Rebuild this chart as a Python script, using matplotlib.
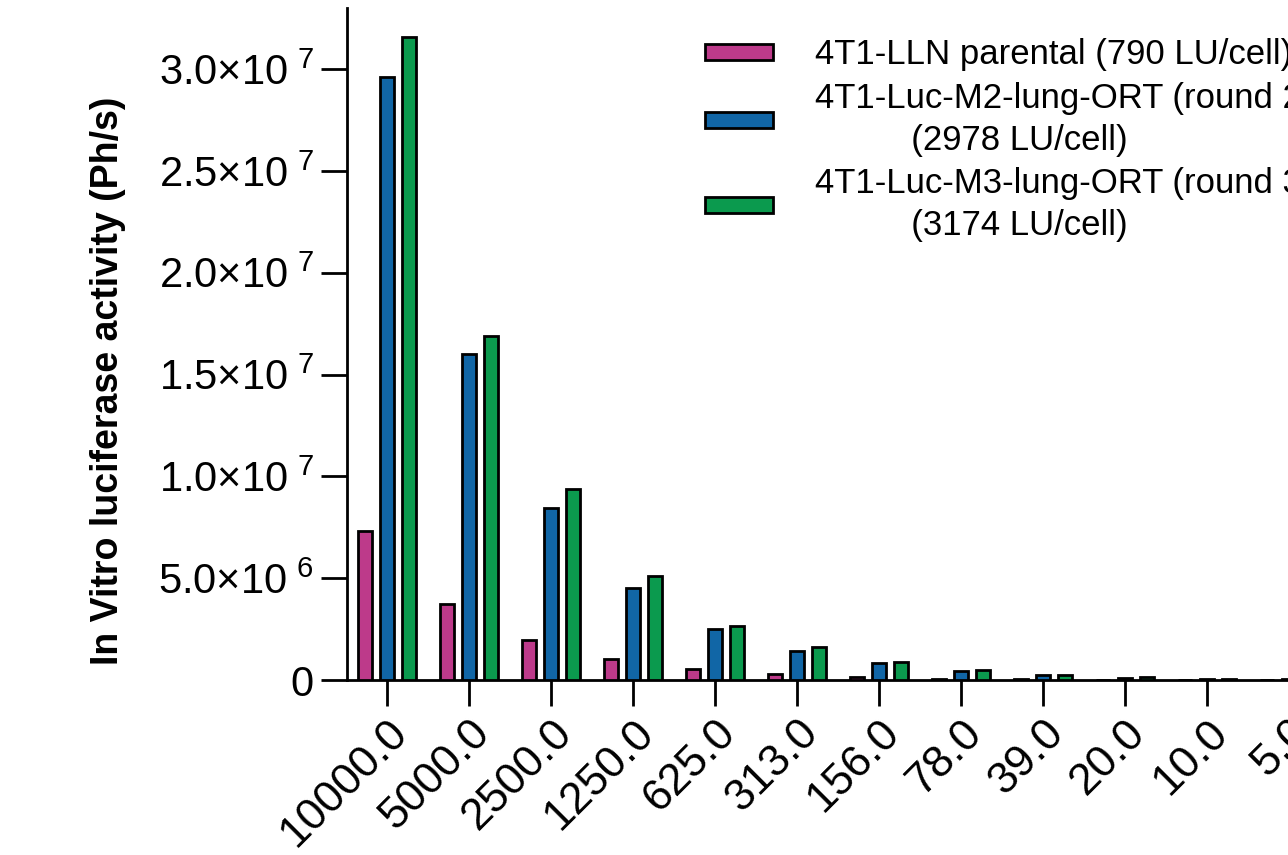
import numpy as np
import matplotlib
matplotlib.use("Agg")
import matplotlib.pyplot as plt
import matplotlib.transforms as mtransforms
from matplotlib.ticker import FuncFormatter, MultipleLocator

plt.rcParams["font.family"] = ["Liberation Sans", "DejaVu Sans"]
plt.rcParams["mathtext.fontset"] = "custom"
plt.rcParams["mathtext.rm"] = "Liberation Sans"

# cells per well (x categories)
cells = ["10000.0", "5000.0", "2500.0", "1250.0", "625.0", "313.0",
         "156.0", "78.0", "39.0", "20.0", "10.0", "5.0"]

# luciferase activity (Ph/s)
parental = [7.3e6, 3.73e6, 1.96e6, 1.03e6, 0.55e6, 0.29e6,
            0.15e6, 0.07e6, 0.04e6, 0.02e6, 0.01e6, 0.005e6]
m2_lung = [2.96e7, 1.60e7, 8.43e6, 4.50e6, 2.50e6, 1.42e6,
           0.83e6, 0.44e6, 0.23e6, 0.11e6, 0.05e6, 0.03e6]
m3_lung = [3.16e7, 1.69e7, 9.36e6, 5.10e6, 2.65e6, 1.62e6,
           0.88e6, 0.49e6, 0.25e6, 0.13e6, 0.06e6, 0.03e6]

# second lines indented by hand to sit where the original puts them
labels = ["4T1-LLN parental (790 LU/cell)",
          "4T1-Luc-M2-lung-ORT (round 2)\n          (2978 LU/cell)",
          "4T1-Luc-M3-lung-ORT (round 3)\n          (3174 LU/cell)"]
colors = ["#BD3A8A", "#1166A6", "#0B9A4E"]

fig = plt.figure(figsize=(12.88, 8.55), dpi=100)
# axes runs past the right edge of the figure, like the cropped original
ax = fig.add_axes([347 / 1288, 175 / 855, 995 / 1288, 672 / 855])

x = np.arange(len(cells))
w = 0.17
off = 0.268
for i, (vals, c, lab) in enumerate(zip([parental, m2_lung, m3_lung], colors, labels)):
    ax.bar(x + (i - 1) * off, vals, width=w, color=c, edgecolor="black",
           linewidth=2, label=lab, zorder=3)

ax.set_xlim(-0.49, 11.65)
ax.set_ylim(0, 3.3e7)
ax.yaxis.set_major_locator(MultipleLocator(5e6))


def sci(v, pos):
    if v <= 0:
        return "0"
    e = int(np.floor(np.log10(v)))
    m = v / 10 ** e
    return "%.1f×10$^{\\ %d}$" % (m, e)


ax.yaxis.set_major_formatter(FuncFormatter(sci))
ax.set_xticks(x)
ax.set_xticklabels(cells, rotation=45, ha="right", rotation_mode="anchor")
shift = mtransforms.ScaledTranslation(-7 / 100, 0, fig.dpi_scale_trans)
for lbl in ax.get_xticklabels():
    lbl.set_transform(lbl.get_transform() + shift)

for s in ["top", "right"]:
    ax.spines[s].set_visible(False)
ax.spines["left"].set_linewidth(2)
ax.spines["bottom"].set_linewidth(2)
ax.tick_params(axis="both", width=2, length=19)
ax.tick_params(axis="y", labelsize=30, pad=5)
ax.tick_params(axis="x", labelsize=32, pad=4)

ax.set_ylabel("In Vitro luciferase activity (Ph/s)", fontsize=27,
              fontweight="bold")
ax.yaxis.set_label_coords(-0.222, 0.445)

leg = ax.legend(loc="upper left", bbox_to_anchor=(674 / 1288, 848 / 855),
                bbox_transform=fig.transFigure, frameon=False, fontsize=25,
                handlelength=1.95, handleheight=0.35, handletextpad=1.2,
                labelspacing=0.3)
for t in leg.get_texts():
    t.set_multialignment("left")
    t.set_linespacing(1.35)
for p in leg.get_patches():
    p.set_linewidth(2)

fig.savefig("out.png", dpi=100)
